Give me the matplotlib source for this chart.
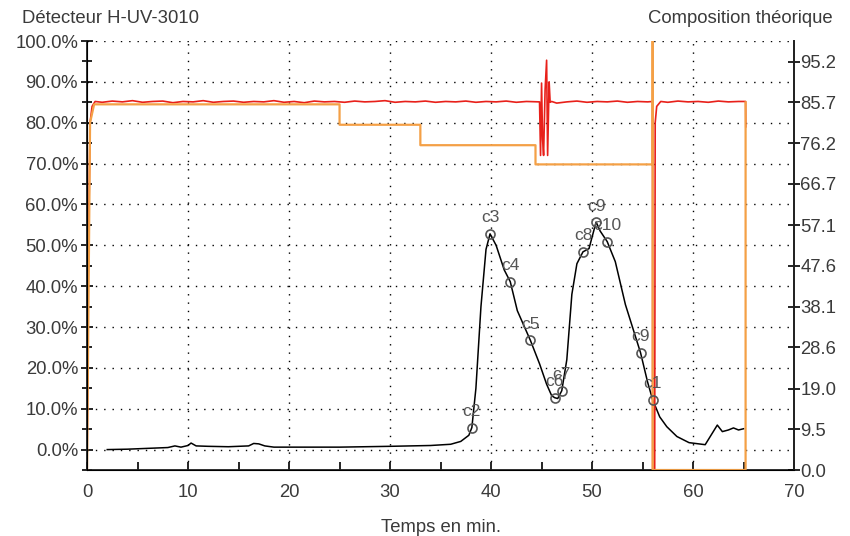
import matplotlib
matplotlib.use("Agg")
import matplotlib.pyplot as plt
from matplotlib.ticker import MultipleLocator, FixedLocator

plt.rcParams['font.family'] = ['Liberation Sans', 'DejaVu Sans']

# detector signal (black), % of full scale
sig_t = [2.0, 4.0, 6.0, 8.0, 8.7, 9.3, 10.0, 10.3, 10.8, 12.0, 14.0, 16.0, 16.5, 17.0, 17.6, 18.5,
         20.0, 25.0, 30.0, 34.0, 36.0, 37.0, 37.8, 38.1, 38.5, 39.0, 39.5, 39.9, 40.5, 41.3, 41.9,
         42.6, 43.9, 44.8, 45.5, 46.0, 46.3, 46.6, 47.0, 47.5, 48.0, 48.5, 49.1, 49.7, 50.0, 50.4,
         50.8, 51.5, 52.3, 53.3, 54.8, 55.5, 56.0, 56.7, 57.4, 58.4, 59.6, 61.2, 62.4, 62.9, 63.5,
         64.0, 64.5, 65.0]
sig_y = [0.0, 0.1, 0.3, 0.5, 0.9, 0.6, 1.0, 1.6, 0.9, 0.8, 0.7, 0.9, 1.5, 1.4, 0.9, 0.6,
         0.6, 0.6, 0.8, 1.0, 1.3, 2.0, 3.5, 5.4, 15.0, 35.0, 49.0, 52.8, 50.0, 44.0, 41.1,
         34.0, 26.7, 21.0, 16.0, 13.2, 12.7, 12.5, 14.4, 22.0, 38.0, 45.5, 48.4, 49.2, 52.0, 55.7,
         53.5, 50.9, 46.0, 35.5, 23.7, 16.5, 12.2, 8.0, 5.6, 3.2, 1.7, 1.2, 6.0, 4.4, 4.8,
         5.3, 4.8, 5.1]

# annotated peaks
peak_t = [38.1, 39.9, 41.9, 43.9, 46.3, 47.0, 49.1, 50.4, 51.5, 54.8, 56.0]
peak_y = [5.4, 52.8, 41.1, 26.7, 12.7, 14.4, 48.4, 55.7, 50.9, 23.7, 12.2]
peak_lab = ['c2', 'c3', 'c4', 'c5', 'c6', 'c7', 'c8', 'c9', 'c10', 'c9', 'c1']

# measured composition (red)
red_t = [0.0, 0.1, 0.3, 0.5, 0.8, 1.5, 2.5, 3.5, 4.5, 5.5, 6.5, 7.5, 8.5, 9.5, 10.5, 11.5, 12.5,
         13.5, 14.5, 15.5, 16.5, 17.5, 18.5, 19.5, 20.5, 21.5, 22.5, 23.5, 24.5, 25.5, 26.5,
         27.5, 28.5, 29.5, 30.5, 31.5, 32.5, 33.5, 34.5, 35.5, 36.5, 37.5, 38.5, 39.5, 40.5,
         41.5, 42.5, 43.5, 44.8, 44.9, 45.0, 45.1, 45.2, 45.35, 45.5, 45.6, 45.75, 45.85,
         46.0, 46.5, 47.5, 48.5, 49.5, 50.5, 51.5, 52.5, 53.5, 54.5, 55.5, 55.99, 56.0, 56.2,
         56.25, 56.4, 56.8, 57.5, 58.5, 59.5, 60.5, 61.5, 62.5, 63.5, 64.5, 65.2, 65.22]
red_y = [-5.0, 40.0, 80.0, 84.0, 85.2, 85.0, 85.3, 85.1, 85.4, 85.0, 85.2, 85.3, 84.9, 85.2, 85.1,
         85.4, 85.0, 85.2, 85.3, 85.0, 85.2, 85.1, 85.4, 85.0, 85.2, 84.9, 85.3, 85.1, 85.2,
         85.0, 85.3, 85.1, 85.2, 85.4, 85.0, 85.2, 85.1, 85.3, 85.0, 85.2, 85.1, 85.3, 85.0,
         85.2, 85.1, 85.3, 85.0, 85.2, 85.1, 72.0, 89.7, 76.0, 72.0, 88.0, 95.3, 72.0, 90.0,
         85.0, 85.2, 84.8, 85.1, 85.3, 85.0, 85.2, 85.1, 85.3, 85.0, 85.2, 85.1, 85.2, -5.0,
         -5.0, 80.0, 84.0, 85.2, 85.0, 85.3, 85.1, 85.2, 85.0, 85.3, 85.1, 85.2, 85.2, 79.0]

# theoretical composition (orange)
ora_t = [0.0, 0.3, 0.7, 25.0, 25.0, 33.0, 33.0, 44.4, 44.4, 56.0, 56.0, 56.0, 65.2, 65.2]
ora_y = [-5.0, 80.0, 84.5, 84.5, 79.5, 79.5, 74.5, 74.5, 69.8, 69.8, 105.0, -5.0, -5.0, 85.0]

left_ticks = [0, 10, 20, 30, 40, 50, 60, 70, 80, 90, 100]
right_ticks = [0.0, 9.5, 19.0, 28.6, 38.1, 47.6, 57.1, 66.7, 76.2, 85.7, 95.2]

txt = '#3a3a3a'
fs = 13.3
fig = plt.figure(figsize=(8.5, 5.36), dpi=100)
ax = fig.add_axes([0.1024, 0.1231, 0.8318, 0.8004])

ax.plot(sig_t, sig_y, color='black', lw=1.1, zorder=3)
ax.plot(red_t, red_y, color='#e8201a', lw=1.2, zorder=4)
ax.plot(ora_t, ora_y, color='#f4a046', lw=1.6, zorder=5)
ax.plot(peak_t, peak_y, 'o', ms=6.5, mfc='none', mec='#555555', mew=1.2, zorder=6)
for t, y, s in zip(peak_t, peak_y, peak_lab):
    ax.annotate(s, (t, y), xytext=(0, 11.5), textcoords='offset points',
                ha='center', va='center', fontsize=12.5, color='#555555', zorder=7)

ax.set_xlim(0, 70)
ax.set_ylim(-5, 100)
ax.xaxis.set_major_locator(MultipleLocator(10))
ax.xaxis.set_minor_locator(MultipleLocator(5))
ax.yaxis.set_major_locator(FixedLocator(left_ticks))
ax.yaxis.set_minor_locator(MultipleLocator(5))
ax.set_yticklabels(['%.1f%%' % v for v in left_ticks])
ax.tick_params(axis='y', which='major', direction='inout', length=9, width=1.2,
               labelsize=fs, labelcolor=txt, pad=2)
ax.tick_params(axis='y', which='minor', direction='inout', length=7, width=1.2)
ax.tick_params(axis='x', which='both', direction='in', length=6, width=1.2,
               labelsize=fs, labelcolor=txt, pad=10)

for s in ['left', 'bottom', 'right']:
    ax.spines[s].set_linewidth(1.3)
    ax.spines[s].set_color('#222222')
ax.spines['top'].set_visible(False)

for v in range(10, 70, 10):
    ax.axvline(v, color='black', lw=1, ls=(0, (1, 5)), zorder=1)
for v in left_ticks:
    ax.axhline(v, color='black', lw=1, ls=(0, (1, 5)), zorder=1)

ax2 = ax.twinx()
ax2.set_ylim(0, 100)
ax2.yaxis.set_major_locator(FixedLocator(right_ticks))
ax2.set_yticklabels(['%.1f' % v for v in right_ticks])
ax2.tick_params(axis='y', direction='inout', length=9, width=1.2, labelsize=fs,
                labelcolor=txt, pad=0)
ax2.spines['top'].set_visible(False)
ax2.spines['right'].set_linewidth(1.3)
ax2.spines['right'].set_color('#222222')

ax.set_xlabel('Temps en min.', fontsize=fs, color=txt, labelpad=13)
fig.text(0.026, 0.966, 'Détecteur H-UV-3010', fontsize=fs, color=txt, va='center')
fig.text(0.979, 0.966, 'Composition théorique', fontsize=fs, color=txt, va='center', ha='right')

fig.savefig('out.png', dpi=100)
